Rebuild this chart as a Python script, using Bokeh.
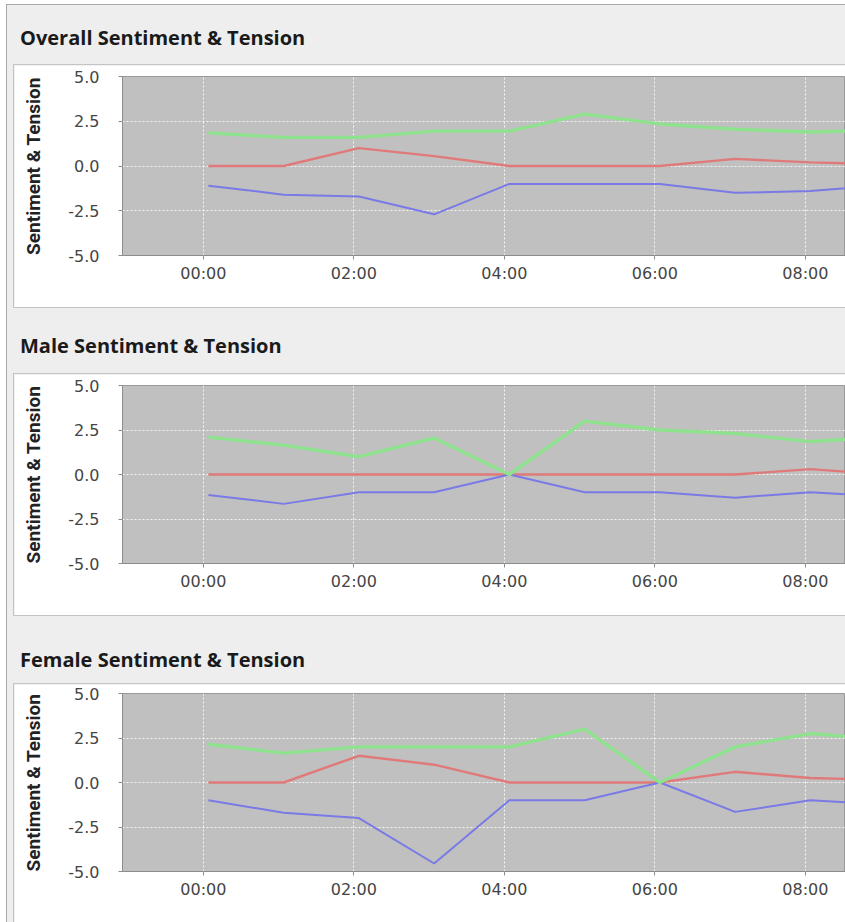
import pandas as pd
from bokeh.plotting import figure
from bokeh.models import (Div, Spacer, FixedTicker, DatetimeTickFormatter,
                          Range1d, PrintfTickFormatter)
from bokeh.layouts import column, row
from bokeh.embed import file_html
from bokeh.resources import INLINE

# ---------------- data ----------------
base_date = "2014-01-01 "
times = ["00:04", "01:04", "02:04", "03:04", "04:04",
         "05:04", "06:04", "07:04", "08:04", "09:04"]
x_tick_labels = ["00:00", "02:00", "04:00", "06:00", "08:00"]
y_ticks = [-5.0, -2.5, 0.0, 2.5, 5.0]
titles = ["Overall Sentiment & Tension",
          "Male Sentiment & Tension",
          "Female Sentiment & Tension"]
y_label = "Sentiment & Tension"

overall_green = [1.85, 1.6, 1.6, 1.95, 1.95, 2.9, 2.35, 2.05, 1.9, 2.0]
overall_red = [0.0, 0.0, 1.0, 0.55, 0.0, 0.0, 0.0, 0.4, 0.2, 0.1]
overall_blue = [-1.1, -1.6, -1.7, -2.7, -1.0, -1.0, -1.0, -1.5, -1.4, -1.05]

male_green = [2.1, 1.65, 1.0, 2.05, 0.0, 3.0, 2.5, 2.3, 1.85, 2.1]
male_red = [0.0, 0.0, 0.0, 0.0, 0.0, 0.0, 0.0, 0.0, 0.3, 0.0]
male_blue = [-1.15, -1.65, -1.0, -1.0, 0.0, -1.0, -1.0, -1.3, -1.0, -1.25]

female_green = [2.15, 1.65, 2.0, 2.0, 2.0, 3.0, 0.0, 2.0, 2.75, 2.4]
female_red = [0.0, 0.0, 1.5, 1.0, 0.0, 0.0, 0.0, 0.6, 0.25, 0.15]
female_blue = [-1.0, -1.7, -2.0, -4.55, -1.0, -1.0, 0.0, -1.65, -1.0, -1.25]

x_start = "2013-12-31 22:55:30"
x_end = "2014-01-01 08:32:00"

# ---------------- styling ----------------
GREEN = "#8ee28e"
RED = "#e07a7a"
BLUE = "#7a7ae6"
PLOT_BG = "#c0c0c0"
PANEL_BG = "#eeeeee"
BOX_LINE = "#c4c4c4"
WIN_LINE = "#a8a8a8"
INNER_W = 838

xs = pd.to_datetime([base_date + t for t in times])
x_tick_ms = [int(pd.Timestamp(base_date + t).value // 10**6) for t in x_tick_labels]


def title_div(text, height, text_top, top_line):
    parts = [f'<div style="position:relative;width:{INNER_W}px;height:{height}px;background:{PANEL_BG};overflow:hidden;">']
    parts.append(
        f'<div style="position:absolute;left:13px;top:{text_top}px;'
        f"font-family:'Open Sans';font-weight:700;font-size:20px;line-height:22px;"
        f'color:#1a1a1a;white-space:nowrap;">{text.replace("&", "&amp;")}</div>')
    if top_line:
        parts.append(f'<div style="position:absolute;left:6px;right:0;top:0;height:1px;background:{BOX_LINE};"></div>')
    parts.append(f'<div style="position:absolute;left:6px;right:0;bottom:0;height:1px;background:{BOX_LINE};"></div>')
    parts.append('</div>')
    return Div(text="".join(parts), width=INNER_W, height=height, margin=(0, 0, 0, 0),
               styles={"background-color": PANEL_BG})


def panel(green, red, blue, height, top_border, bottom_border):
    p = figure(width=831, height=height, x_axis_type="datetime",
               x_range=Range1d(pd.Timestamp(x_start), pd.Timestamp(x_end)),
               y_range=Range1d(-5, 5),
               output_backend="svg", toolbar_location=None,
               min_border_left=108, min_border_right=0,
               min_border_top=top_border, min_border_bottom=bottom_border,
               background_fill_color=PLOT_BG, border_fill_color="white",
               outline_line_color="#9a9a9a")
    p.line(xs, red, line_color=RED, line_width=2.4)
    p.line(xs, blue, line_color=BLUE, line_width=2.0)
    p.line(xs, green, line_color=GREEN, line_width=3.4)

    xa = p.xaxis[0]
    xa.ticker = FixedTicker(ticks=x_tick_ms)
    xa.formatter = DatetimeTickFormatter(hours="%H:%M", hourmin="%H:%M",
                                         minutes="%H:%M", days="%H:%M",
                                         minsec="%H:%M")
    ya = p.yaxis[0]
    ya.ticker = FixedTicker(ticks=y_ticks)
    ya.formatter = PrintfTickFormatter(format="%.1f")
    ya.axis_label = y_label
    ya.axis_label_text_font = "Roboto"
    ya.axis_label_text_font_style = "bold"
    ya.axis_label_text_font_size = "19px"
    ya.axis_label_text_color = "#222222"
    ya.axis_label_standoff = 20
    for ax in (xa, ya):
        ax.axis_line_color = "#8c8c8c"
        ax.major_tick_line_color = "#8c8c8c"
        ax.major_tick_out = 4
        ax.major_tick_in = 0
        ax.minor_tick_line_color = None
        ax.major_label_text_font = "DejaVu Sans"
        ax.major_label_text_font_size = "16px"
        ax.major_label_text_color = "#454545"
    ya.major_label_standoff = 19
    xa.major_label_standoff = 4

    p.xgrid.grid_line_color = "white"
    p.ygrid.grid_line_color = "white"
    p.xgrid.grid_line_dash = "2 2"
    p.ygrid.grid_line_dash = "2 2"
    p.xgrid.grid_line_alpha = 0.85
    p.ygrid.grid_line_alpha = 0.85
    return p


def boxed(p):
    return row(Spacer(width=6, height=p.height),
               Spacer(width=1, height=p.height, styles={"background-color": BOX_LINE}),
               p, spacing=0)


p1 = panel(overall_green, overall_red, overall_blue, 242, 11, 52)
p2 = panel(male_green, male_red, male_blue, 241, 11, 52)
p3 = panel(female_green, female_red, female_blue, 238, 9, 51)

inner = column(
    Spacer(width=INNER_W, height=1, styles={"background-color": WIN_LINE}),
    title_div(titles[0], 60, 22, False), boxed(p1),
    title_div(titles[1], 67, 28, True), boxed(p2),
    title_div(titles[2], 69, 34, True), boxed(p3),
    spacing=0, styles={"background-color": PANEL_BG},
)

layout = column(
    Spacer(width=845, height=4),
    row(Spacer(width=6, height=918),
        Spacer(width=1, height=918, styles={"background-color": WIN_LINE}),
        inner, spacing=0),
    spacing=0,
)

open("out.html", "w").write(file_html(layout, INLINE))
